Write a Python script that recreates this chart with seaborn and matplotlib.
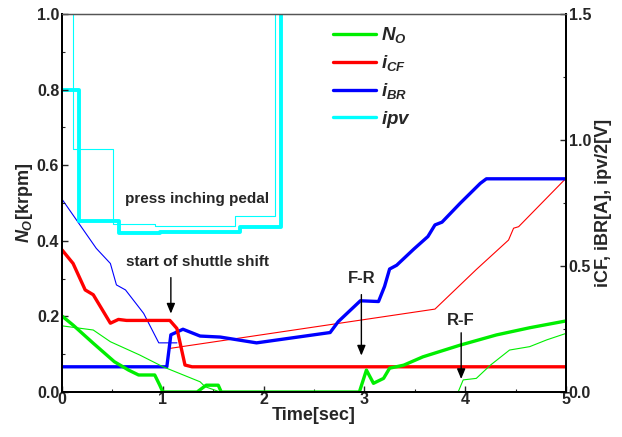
import matplotlib
matplotlib.use("Agg")
import matplotlib.pyplot as plt
from matplotlib.ticker import MultipleLocator, FormatStrFormatter
from matplotlib.lines import Line2D
import seaborn as sns

# ---------------- data ----------------
# Output shaft speed N_O [krpm] (left axis)
no_t = [0, 0.11, 0.31, 0.52, 0.66, 0.76, 0.92, 0.97, 1.0, 1.34, 1.43, 1.55, 1.58,
        2.95, 3.02, 3.09, 3.19, 3.25, 3.39, 3.58, 3.95, 4.31, 4.64, 5.0]
no_v = [0.201, 0.177, 0.129, 0.08, 0.058, 0.045, 0.045, 0.018, 0, 0, 0.018, 0.018, 0,
        0, 0.058, 0.023, 0.036, 0.063, 0.071, 0.093, 0.124, 0.151, 0.17, 0.188]
no2_t = [0, 0.31, 0.48, 0.77, 1.0, 1.37, 1.42, 1.57, 3.93, 3.98, 4.11, 4.25, 4.44,
         4.64, 4.81, 5.0]
no2_v = [0.175, 0.164, 0.133, 0.098, 0.067, 0.027, 0.014, 0, 0, 0.032, 0.036, 0.071,
         0.111, 0.12, 0.138, 0.155]

# Clutch currents [A] (right axis)
icf_t = [0, 0.11, 0.23, 0.31, 0.48, 0.56, 0.64, 1.07, 1.14, 1.22, 1.29, 5.0]
icf_v = [0.564, 0.51, 0.405, 0.386, 0.273, 0.288, 0.284, 0.284, 0.252, 0.107, 0.1, 0.1]
icf2_t = [1.07, 3.70, 4.11, 4.43, 4.48, 4.53, 5.0]
icf2_v = [0.173, 0.329, 0.486, 0.603, 0.65, 0.656, 0.848]

ibr_t = [0, 1.04, 1.08, 1.20, 1.37, 1.57, 1.93, 2.66, 2.74, 2.96, 3.14, 3.20, 3.25,
         3.32, 3.49, 3.63, 3.70, 3.77, 3.95, 4.15, 4.21, 5.0]
ibr_v = [0.1, 0.1, 0.227, 0.249, 0.222, 0.218, 0.195, 0.236, 0.279, 0.362, 0.359,
         0.419, 0.488, 0.503, 0.567, 0.617, 0.663, 0.674, 0.749, 0.828, 0.846, 0.846]
ibr2_t = [0, 0.34, 0.48, 0.54, 0.63, 0.81, 0.96, 1.14]
ibr2_v = [0.765, 0.57, 0.51, 0.425, 0.405, 0.312, 0.195, 0.195]

# Inching pedal voltage ipv/2 [V] (right axis, step signal)
ipv_t = [0, 0.17, 0.57, 0.97, 1.77, 2.17, 5.0]
ipv_v = [1.2, 0.68, 0.63, 0.633, 0.655, 1.7, 1.7]
ipv2_t = [0, 0.11, 0.51, 0.92, 1.72, 2.11, 5.0]
ipv2_v = [1.7, 0.965, 0.666, 0.66, 0.70, 1.7, 1.7]

legend_labels = [r"$N_O$", r"$i_{CF}$", r"$i_{BR}$", r"$ipv$"]

# ---------------- style ----------------
sns.set_style("white")
plt.rcParams["font.family"] = ["Liberation Sans", "DejaVu Sans"]
plt.rcParams["font.weight"] = "bold"
plt.rcParams["axes.labelweight"] = "bold"
plt.rcParams["mathtext.fontset"] = "custom"
plt.rcParams["mathtext.it"] = "Liberation Sans:italic:bold"
plt.rcParams["mathtext.rm"] = "Liberation Sans:bold"
plt.rcParams["mathtext.bf"] = "Liberation Sans:bold"

GREEN, RED, BLUE, CYAN = "#00ee00", "#ff0000", "#0000ff", "#00ffff"
THICK, THIN = 2.4, 0.8

fig = plt.figure(figsize=(6.22, 4.37), dpi=100)
ax = fig.add_axes([62 / 622, 45 / 437, 504 / 622, 378 / 437])
ax2 = ax.twinx()

kw = dict(estimator=None, sort=False, legend=False)

# thin (second data set)
sns.lineplot(x=ipv2_t, y=ipv2_v, ax=ax2, color=CYAN, lw=THIN, drawstyle="steps-post", **kw)
sns.lineplot(x=ibr2_t, y=ibr2_v, ax=ax2, color=BLUE, lw=THIN, **kw)
sns.lineplot(x=icf2_t, y=icf2_v, ax=ax2, color=RED, lw=THIN, **kw)
# thick
sns.lineplot(x=ipv_t, y=ipv_v, ax=ax2, color=CYAN, lw=THICK + 0.4, drawstyle="steps-post", **kw)
sns.lineplot(x=ibr_t, y=ibr_v, ax=ax2, color=BLUE, lw=THICK, **kw)
sns.lineplot(x=icf_t, y=icf_v, ax=ax2, color=RED, lw=THICK, **kw)

# speed on the left axis, drawn over the twin axis
ax.set_zorder(ax2.get_zorder() + 1)
ax.patch.set_visible(False)
sns.lineplot(x=no2_t, y=no2_v, ax=ax, color=GREEN, lw=THIN, **kw)
sns.lineplot(x=no_t, y=no_v, ax=ax, color=GREEN, lw=THICK, **kw)

ax.set_xlim(0, 5)
ax.set_ylim(0, 1.0)
ax2.set_ylim(0, 1.5)

ax.xaxis.set_major_locator(MultipleLocator(1))
ax.xaxis.set_minor_locator(MultipleLocator(0.5))
ax.yaxis.set_major_locator(MultipleLocator(0.2))
ax.yaxis.set_minor_locator(MultipleLocator(0.1))
ax2.yaxis.set_major_locator(MultipleLocator(0.5))
ax2.yaxis.set_minor_locator(MultipleLocator(0.25))
ax.yaxis.set_major_formatter(FormatStrFormatter("%.1f"))
ax2.yaxis.set_major_formatter(FormatStrFormatter("%.1f"))

for a in (ax, ax2):
    a.tick_params(which="both", direction="in", labelsize=11.5, pad=2)
    a.tick_params(which="major", length=4, width=1)
    a.tick_params(which="minor", length=2, width=0.8)
ax.tick_params(axis="x", pad=0)
ax.tick_params(left=True, bottom=True, which="both")
ax2.tick_params(right=True, which="both")
for lab in ax.get_xticklabels() + ax.get_yticklabels() + ax2.get_yticklabels():
    lab.set_fontweight("bold")

for a in (ax, ax2):
    for s in ("left", "bottom", "right"):
        a.spines[s].set_color("black")
        a.spines[s].set_linewidth(1.4)
    a.spines["top"].set_color("#555555")
    a.spines["top"].set_linewidth(0.9)

ax.set_xlabel("Time[sec]", fontsize=13, fontweight="bold", labelpad=0)
ax.set_ylabel(r"$N_O$[krpm]", fontsize=13, fontweight="bold", labelpad=1)
ax2.set_ylabel("iCF, iBR[A], ipv/2[V]", fontsize=13, fontweight="bold", labelpad=3)

# annotations
ax.text(1.34, 0.51, "press inching pedal", fontsize=11, fontweight="bold",
        ha="center", va="center")
ax.text(1.34, 0.345, "start of shuttle shift", fontsize=11, fontweight="bold",
        ha="center", va="center")
arrow = dict(arrowstyle="-|>,head_width=0.25,head_length=0.6", color="black", lw=1)
ax.annotate("", xy=(1.08, 0.2), xytext=(1.08, 0.31), arrowprops=arrow)
ax.text(2.97, 0.30, "F-R", fontsize=12, fontweight="bold", ha="center", va="center")
ax.annotate("", xy=(2.97, 0.089), xytext=(2.97, 0.265), arrowprops=arrow)
ax.text(3.96, 0.19, "R-F", fontsize=12, fontweight="bold", ha="center", va="center")
ax.annotate("", xy=(3.96, 0.027), xytext=(3.96, 0.164), arrowprops=arrow)

# legend (thick lines only)
handles = [Line2D([], [], color=c, lw=THICK) for c in (GREEN, RED, BLUE, CYAN)]
ax.legend(handles, legend_labels, loc="upper left", bbox_to_anchor=(0.537, 0.97),
          frameon=False, fontsize=13.5, handlelength=2.3, handletextpad=0.3,
          labelspacing=0.42, borderpad=0, borderaxespad=0)

fig.savefig("out.png", dpi=100)
